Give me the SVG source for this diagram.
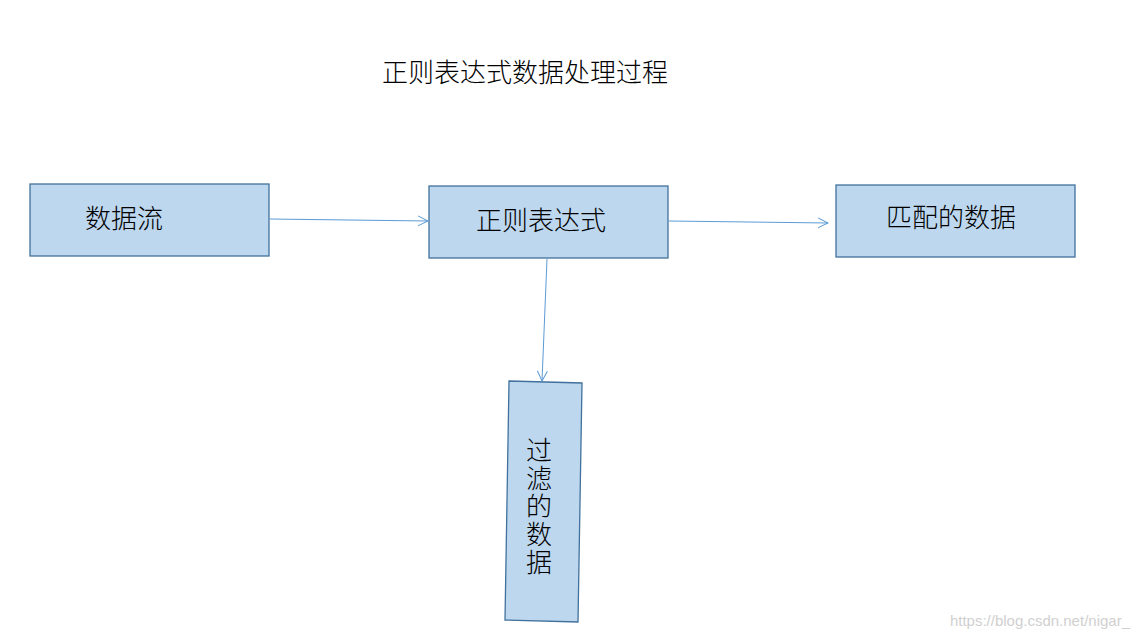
<svg xmlns="http://www.w3.org/2000/svg" width="1139" height="639" viewBox="0 0 1139 639">
<style>
.box{fill:#bdd7ee;stroke:#41719c;stroke-width:1.3}
.t{font-family:"Noto Sans CJK SC","Liberation Sans",sans-serif;fill:#000;font-size:26px;font-weight:300}
.c{stroke:#5b9bd5;stroke-width:1;fill:none;marker-end:url(#a)}
</style>
<defs><marker id="a" markerWidth="12" markerHeight="12" refX="11" refY="6" orient="auto" markerUnits="userSpaceOnUse"><path d="M1,1 L11,6 L1,11" fill="none" stroke="#5b9bd5" stroke-width="1"/></marker></defs>
<rect width="1139" height="639" fill="#fff"/>
<text x="525" y="82" text-anchor="middle" class="t" font-size="26.5">正则表达式数据处理过程</text>
<g id="n1"><rect class="box" x="30" y="184" width="239" height="72"/><text class="t" x="124" y="228" text-anchor="middle">数据流</text></g>
<g id="n2"><rect class="box" x="429" y="186" width="239" height="72"/><text class="t" x="541" y="230" text-anchor="middle">正则表达式</text></g>
<g id="n3"><rect class="box" x="836" y="185" width="239" height="72"/><text class="t" x="951" y="227" text-anchor="middle">匹配的数据</text></g>
<g id="n4"><polygon class="box" points="509,381 582,383 578,622 505,620"/>
<text class="t" x="539" y="437" font-size="24" style="writing-mode:vertical-rl;text-orientation:upright" letter-spacing="2">过滤的数据</text></g>
<g id="edges">
<line class="c" x1="270" y1="219" x2="428" y2="221"/>
<line class="c" x1="669" y1="221" x2="828" y2="223"/>
<line class="c" x1="547" y1="259" x2="542" y2="381"/>
</g>
<text x="1130" y="626" text-anchor="end" font-family="Liberation Sans,sans-serif" font-size="15" fill="#d0d0d0">https://blog.csdn.net/nigar_</text>
</svg>
